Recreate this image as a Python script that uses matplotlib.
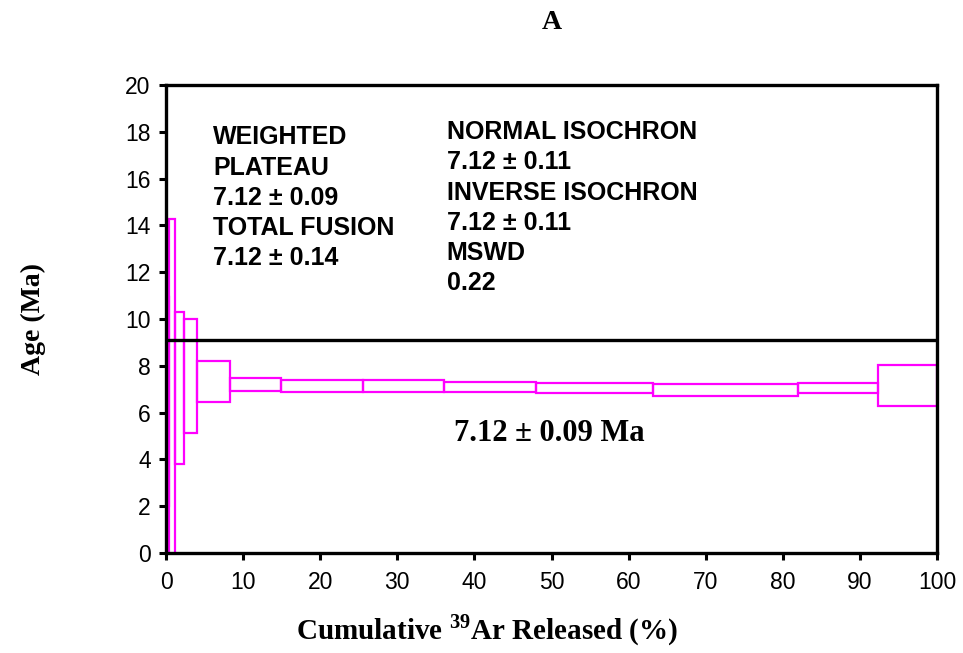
import matplotlib
matplotlib.use("Agg")
import matplotlib.pyplot as plt

plt.rcParams["mathtext.fontset"] = "custom"
plt.rcParams["mathtext.rm"] = "Liberation Serif"
plt.rcParams["mathtext.bf"] = "Liberation Serif:bold"

# step heating data (cumulative 39Ar %, age range in Ma)
step_start = [0.0, 0.45, 1.15, 2.3, 4.0, 8.3, 14.9, 25.6, 36.0, 48.0, 63.1, 82.0, 92.4]
step_end = [0.45, 1.15, 2.3, 4.0, 8.3, 14.9, 25.6, 36.0, 48.0, 63.1, 82.0, 92.4, 100.0]
age_low = [2.0, -2.0, 3.79, 5.14, 6.44, 6.91, 6.89, 6.88, 6.87, 6.85, 6.71, 6.82, 6.30]
age_high = [10.95, 14.27, 10.31, 10.0, 8.2, 7.48, 7.38, 7.40, 7.29, 7.25, 7.21, 7.26, 8.03]
plateau_line = 9.1

left_text = ["WEIGHTED", "PLATEAU", "7.12 \u00b1 0.09", "TOTAL FUSION", "7.12 \u00b1 0.14"]
right_text = ["NORMAL ISOCHRON", "7.12 \u00b1 0.11", "INVERSE ISOCHRON", "7.12 \u00b1 0.11", "MSWD", "0.22"]
plateau_label = "7.12 \u00b1 0.09 Ma"

fig = plt.figure(figsize=(9.63, 6.53), dpi=100)
ax = fig.add_axes([0.1724, 0.1531, 0.8006, 0.7167])

widths = [e - s for s, e in zip(step_start, step_end)]
heights = [h - l for l, h in zip(age_low, age_high)]
ax.bar(step_start, heights, width=widths, bottom=age_low, align="edge",
       fill=False, edgecolor="#FF00FF", linewidth=1.6, zorder=2)

ax.axhline(plateau_line, color="black", linewidth=2.4, zorder=3)

ax.set_xlim(0, 100)
ax.set_ylim(0, 20)
ax.set_xticks(range(0, 101, 10))
ax.set_yticks(range(0, 21, 2))
for sp in ax.spines.values():
    sp.set_linewidth(2.4)
ax.tick_params(direction="out", length=5, width=2.2, labelsize=16.5)
ax.tick_params(axis="x", pad=8)
ax.tick_params(axis="y", pad=6)
for lab in ax.get_xticklabels() + ax.get_yticklabels():
    lab.set_fontfamily("Liberation Sans")

ax.set_xlabel("Cumulative $^{\\mathbf{39}}$Ar Released (%)", fontsize=21,
              fontweight="bold", fontfamily="Liberation Serif")
ax.xaxis.set_label_coords(0.416, -0.128)
ax.set_ylabel("Age (Ma)", fontsize=20, fontweight="bold",
              fontfamily="Liberation Serif", labelpad=57)
ax.set_title("A", fontsize=20, fontweight="bold", fontfamily="Liberation Serif", pad=40)

ax.text(0.061, 0.914, "\n".join(left_text), transform=ax.transAxes, ha="left", va="top",
        fontsize=18, fontweight="bold", fontfamily="Liberation Sans", linespacing=1.33)
ax.text(0.364, 0.925, "\n".join(right_text), transform=ax.transAxes, ha="left", va="top",
        fontsize=18, fontweight="bold", fontfamily="Liberation Sans", linespacing=1.33)
ax.text(0.497, 0.255, plateau_label, transform=ax.transAxes, ha="center", va="center",
        fontsize=22, fontweight="bold", fontfamily="Liberation Serif")

fig.savefig("out.png", dpi=100)
